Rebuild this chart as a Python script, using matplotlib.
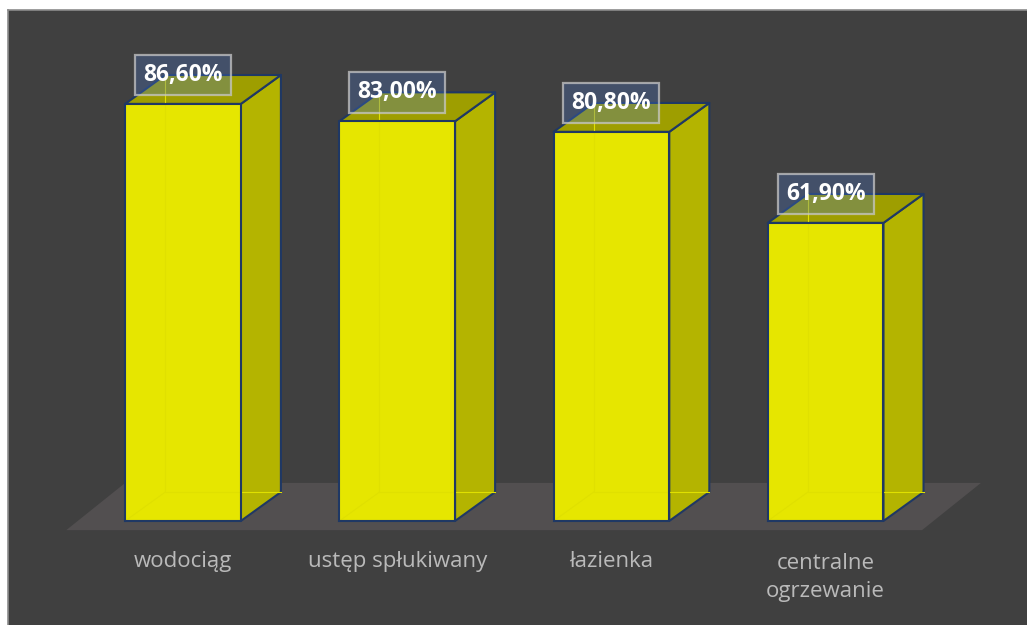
import numpy as np
import matplotlib.pyplot as plt
from matplotlib.patches import Polygon

plt.rcParams['font.family'] = ['Open Sans', 'DejaVu Sans']

# data
categories = ['wodociąg', 'ustęp spłukiwany', 'łazienka', 'centralne\nogrzewanie']
values = [86.6, 83.0, 80.8, 61.9]
value_labels = ['86,60%', '83,00%', '80,80%', '61,90%']

# 3d look
bar_w = 0.54          # front face width (category units)
dep_x = 0.187         # depth offset to the right
dep_y = 6.0           # depth offset upward (in % units)

front_col = '#E6E600'
side_col = '#B4B400'
top_col = '#9E9E00'
edge_col = '#1F3864'
ghost_col = '#E0E000'   # hidden edges seen through the front

fig = plt.figure(figsize=(10.27, 6.25), dpi=100, facecolor='white')
ax = fig.add_axes([8 / 1027, 0, 1019 / 1027, 615 / 625])
ax.set_facecolor('#404040')
ax.set_xlim(-0.817, 3.94)
ax.set_ylim(-21.6, 106.1)
ax.set_xticks([])
ax.set_yticks([])
for s in ['right', 'bottom']:
    ax.spines[s].set_visible(False)
for s in ['top', 'left']:
    ax.spines[s].set_color('#8C8C8C')
    ax.spines[s].set_linewidth(1.2)

# floor
fl_y0, fl_y1 = -1.9, 7.9
fl_x0, fl_x1 = -0.545, 3.45
fl_off = 0.275
floor = Polygon([(fl_x0, fl_y0), (fl_x1, fl_y0), (fl_x1 + fl_off, fl_y1), (fl_x0 + fl_off, fl_y1)],
                closed=True, facecolor='#524F50', edgecolor='none', zorder=1)
ax.add_patch(floor)

x = np.arange(len(values))
for xi, v, lab in zip(x, values, value_labels):
    l, r = xi - bar_w / 2, xi + bar_w / 2
    side = Polygon([(r, 0), (r + dep_x, dep_y), (r + dep_x, v + dep_y), (r, v)],
                   facecolor=side_col, edgecolor=edge_col, lw=1.5, zorder=3, joinstyle='round')
    top = Polygon([(l, v), (r, v), (r + dep_x, v + dep_y), (l + dep_x, v + dep_y)],
                  facecolor=top_col, edgecolor=edge_col, lw=1.5, zorder=3, joinstyle='round')
    front = Polygon([(l, 0), (r, 0), (r, v), (l, v)],
                    facecolor=front_col, edgecolor='none', zorder=3)
    ax.add_patch(side)
    ax.add_patch(top)
    ax.add_patch(front)
    # faint back edges showing through the front face
    ax.plot([l + dep_x, l + dep_x, r + dep_x], [v + dep_y, dep_y, dep_y],
            color=ghost_col, lw=0.8, zorder=3.5)
    ax.plot([l, l + dep_x], [0, dep_y], color=ghost_col, lw=0.8, zorder=3.5)
    ax.plot([l, r, r, l, l], [0, 0, v, v, 0], color=edge_col, lw=1.5, zorder=3.6)

    ax.text(xi, v + dep_y, lab, ha='center', va='center', color='white',
            fontsize=16.5, fontweight='bold', zorder=6,
            bbox=dict(boxstyle='square,pad=0.36', facecolor=(0.29, 0.45, 0.76, 0.32),
                      edgecolor=(0.78, 0.78, 0.78, 0.75), lw=1.6))

# category labels
for xi, c in zip(x, categories):
    y = -11.8 if '\n' in c else -8.5
    ax.text(xi, y, c, ha='center', va='center', color='#BABABA',
            fontsize=16, linespacing=1.45, zorder=5)

fig.savefig('out.png', dpi=100, facecolor=fig.get_facecolor())
